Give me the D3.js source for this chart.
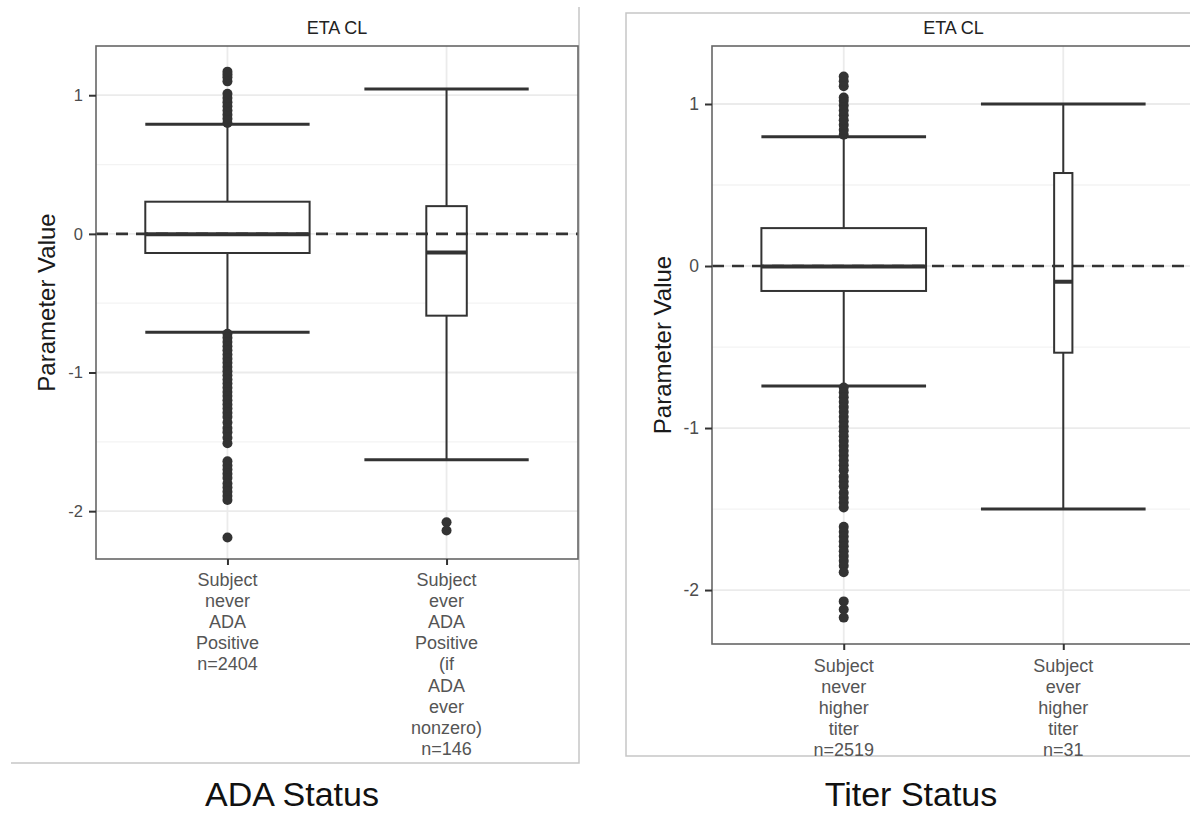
<!DOCTYPE html>
<html>
<head>
<meta charset="utf-8">
<script src="https://cdn.jsdelivr.net/npm/d3@7"></script>
<style>
  body { margin: 0; background: #fff; }
  svg { display: block; font-family: "Liberation Sans", Arial, sans-serif; }
</style>
</head>
<body>
<svg id="chart" width="1190" height="815"></svg>
<script>
// ---- data ----
var yTicks = [-2, -1, 0, 1];
var yMinorTicks = [-1.5, -0.5, 0.5];

var adaLabels = ["Subject never ADA Positive", "Subject ever ADA Positive (if ADA ever nonzero)"];
var adaN = [2404, 146];
var adaLow = [-0.71, -1.63];
var adaQ1 = [-0.138, -0.59];
var adaMedian = [-0.003, -0.135];
var adaQ3 = [0.232, 0.20];
var adaHigh = [0.79, 1.045];
var adaOutliersNever = [0.80, 0.83, 0.86, 0.89, 0.92, 0.95, 0.98, 1.01, 1.10, 1.13, 1.15, 1.17,
  -0.72, -0.75, -0.78, -0.81, -0.84, -0.87, -0.90, -0.93, -0.96, -0.99, -1.02, -1.05, -1.08,
  -1.11, -1.14, -1.17, -1.20, -1.23, -1.26, -1.29, -1.32, -1.36, -1.40, -1.43, -1.47, -1.51,
  -1.64, -1.67, -1.70, -1.73, -1.76, -1.80, -1.83, -1.86, -1.89, -1.92, -2.19];
var adaOutliersEver = [-2.08, -2.14];

var titerLabels = ["Subject never higher titer", "Subject ever higher titer"];
var titerN = [2519, 31];
var titerLow = [-0.741, -1.50];
var titerQ1 = [-0.154, -0.535];
var titerMedian = [-0.003, -0.097];
var titerQ3 = [0.234, 0.574];
var titerHigh = [0.798, 1.0];
var titerOutliersNever = [0.81, 0.84, 0.87, 0.90, 0.93, 0.96, 0.99, 1.02, 1.04, 1.11, 1.14, 1.17,
  -0.75, -0.78, -0.81, -0.84, -0.87, -0.90, -0.93, -0.96, -0.99, -1.02, -1.05, -1.08, -1.11,
  -1.14, -1.17, -1.20, -1.23, -1.26, -1.30, -1.33, -1.36, -1.40, -1.43, -1.46, -1.49,
  -1.61, -1.64, -1.67, -1.70, -1.73, -1.76, -1.79, -1.82, -1.85, -1.89,
  -2.07, -2.12, -2.17];
var titerOutliersEver = [];

var svg = d3.select("#chart");

// outer frames of the two pasted plots
svg.append("path")
  .attr("d", "M579,7V763H11")
  .attr("fill", "none")
  .attr("stroke", "#c6c6c6")
  .attr("stroke-width", 1.5);
svg.append("path")
  .attr("d", "M1190,13H626V756H1190")
  .attr("fill", "none")
  .attr("stroke", "#c6c6c6")
  .attr("stroke-width", 1.5);

function drawPanel(p) {
  var g = svg.append("g");

  var rows = p.labels.map(function(d, i) {
    return {label: d, n: p.n[i], lo: p.lo[i], q1: p.q1[i], med: p.med[i], q3: p.q3[i], hi: p.hi[i], out: p.outliers[i]};
  });

  var x = d3.scalePoint()
    .domain(p.labels)
    .range([p.left, p.right])
    .padding(0.6);
  var y = d3.scaleLinear()
    .domain(p.domain)
    .range([p.bottom, p.top]);

  var nmax = d3.max(p.n);
  var capW = 0.75 * x.step();
  function boxW(d) { return 0.75 * x.step() * Math.sqrt(d.n / nmax); }

  var plotRight = Math.min(p.right, 1190);

  // grid
  g.selectAll(".minor").data(yMinorTicks).enter().append("line")
    .attr("x1", p.left).attr("x2", plotRight)
    .attr("y1", function(d) { return y(d); })
    .attr("y2", function(d) { return y(d); })
    .attr("stroke", "#f3f3f3").attr("stroke-width", 1.3);
  g.selectAll(".major").data(yTicks).enter().append("line")
    .attr("x1", p.left).attr("x2", plotRight)
    .attr("y1", function(d) { return y(d); })
    .attr("y2", function(d) { return y(d); })
    .attr("stroke", "#ebebeb").attr("stroke-width", 1.8);
  g.selectAll(".vgrid").data(p.labels).enter().append("line")
    .attr("x1", function(d) { return x(d); })
    .attr("x2", function(d) { return x(d); })
    .attr("y1", p.top).attr("y2", p.bottom)
    .attr("stroke", "#ebebeb").attr("stroke-width", 1.8);

  // whiskers + caps
  rows.forEach(function(d) {
    var cx = x(d.label);
    g.append("line").attr("x1", cx).attr("x2", cx).attr("y1", y(d.hi)).attr("y2", y(d.lo))
      .attr("stroke", "#333").attr("stroke-width", 2);
    [d.hi, d.lo].forEach(function(v) {
      g.append("line").attr("x1", cx - capW / 2).attr("x2", cx + capW / 2)
        .attr("y1", y(v)).attr("y2", y(v))
        .attr("stroke", "#333").attr("stroke-width", 3);
    });
  });

  // boxes
  g.selectAll(".box").data(rows).enter().append("rect")
    .attr("x", function(d) { return x(d.label) - boxW(d) / 2; })
    .attr("y", function(d) { return y(d.q3); })
    .attr("width", function(d) { return boxW(d); })
    .attr("height", function(d) { return y(d.q1) - y(d.q3); })
    .attr("fill", "#fff")
    .attr("stroke", "#333")
    .attr("stroke-width", 2);
  g.selectAll(".median").data(rows).enter().append("line")
    .attr("x1", function(d) { return x(d.label) - boxW(d) / 2; })
    .attr("x2", function(d) { return x(d.label) + boxW(d) / 2; })
    .attr("y1", function(d) { return y(d.med); })
    .attr("y2", function(d) { return y(d.med); })
    .attr("stroke", "#333")
    .attr("stroke-width", 4);

  // outliers
  rows.forEach(function(d) {
    g.selectAll(null).data(d.out).enter().append("circle")
      .attr("cx", x(d.label))
      .attr("cy", function(v) { return y(v); })
      .attr("r", 5)
      .attr("fill", "#333");
  });

  // reference line at zero
  g.append("line")
    .attr("x1", p.left).attr("x2", plotRight)
    .attr("y1", y(0)).attr("y2", y(0))
    .attr("stroke", "#333")
    .attr("stroke-width", 2.6)
    .attr("stroke-dasharray", "12,8");

  // panel border
  g.append("rect")
    .attr("x", p.left).attr("y", p.top)
    .attr("width", p.right - p.left).attr("height", p.bottom - p.top)
    .attr("fill", "none")
    .attr("stroke", "#666")
    .attr("stroke-width", 1.6);

  // y axis
  var yAxis = g.append("g")
    .attr("transform", "translate(" + p.left + ",0)")
    .call(d3.axisLeft(y).tickValues(yTicks).tickSize(7).tickPadding(6)
      .tickFormat(function(d) { return String(d); }));
  yAxis.select(".domain").remove();
  yAxis.selectAll("line").attr("stroke", "#333").attr("stroke-width", 2);
  yAxis.selectAll("text")
    .style("font-family", "Liberation Sans, Arial, sans-serif")
    .style("font-size", p.tickFont + "px")
    .attr("fill", "#4d4d4d");

  // x axis
  var xAxis = g.append("g")
    .attr("transform", "translate(0," + p.bottom + ")")
    .call(d3.axisBottom(x).tickSize(6).tickFormat(""));
  xAxis.select(".domain").remove();
  xAxis.selectAll("line").attr("stroke", "#333").attr("stroke-width", 2);

  var labelG = g.append("g");
  if (p.clipBottom) {
    var cid = "clip" + p.id;
    svg.append("clipPath").attr("id", cid)
      .append("rect").attr("x", 0).attr("y", 0).attr("width", 1190).attr("height", p.clipBottom);
    labelG.attr("clip-path", "url(#" + cid + ")");
  }
  rows.forEach(function(d) {
    var lines = (d.label + " n=" + d.n).split(" ");
    var t = labelG.append("text")
      .attr("text-anchor", "middle")
      .attr("fill", "#555")
      .style("font-size", "18px");
    lines.forEach(function(s, i) {
      t.append("tspan")
        .attr("x", x(d.label))
        .attr("y", p.bottom + p.labelOffset + i * 21.2)
        .text(s);
    });
  });

  // strip title
  g.append("text")
    .attr("x", (p.left + p.right) / 2)
    .attr("y", 34)
    .attr("text-anchor", "middle")
    .attr("fill", "#222")
    .style("font-size", "18px")
    .text("ETA CL");

  // y title
  g.append("text")
    .attr("transform", "translate(" + p.yTitleX + "," + (p.top + p.bottom) / 2 + ") rotate(-90)")
    .attr("text-anchor", "middle")
    .attr("fill", "#1a1a1a")
    .style("font-size", "24px")
    .text("Parameter Value");

  // caption under the plot
  svg.append("text")
    .attr("x", p.captionX)
    .attr("y", 806)
    .attr("text-anchor", "middle")
    .attr("fill", "#111")
    .style("font-size", "34px")
    .text(p.caption);
}

drawPanel({
  id: "ada",
  left: 96, right: 578, top: 46, bottom: 559,
  domain: [-2.345, 1.355],
  labels: adaLabels, n: adaN,
  lo: adaLow, q1: adaQ1, med: adaMedian, q3: adaQ3, hi: adaHigh,
  outliers: [adaOutliersNever, adaOutliersEver],
  tickFont: 16.5,
  labelOffset: 26.5,
  yTitleX: 55,
  captionX: 292,
  caption: "ADA Status"
});

drawPanel({
  id: "titer",
  left: 712, right: 1195, top: 46, bottom: 644,
  domain: [-2.333, 1.358],
  labels: titerLabels, n: titerN,
  lo: titerLow, q1: titerQ1, med: titerMedian, q3: titerQ3, hi: titerHigh,
  outliers: [titerOutliersNever, titerOutliersEver],
  tickFont: 17.5,
  labelOffset: 27.5,
  clipBottom: 756,
  yTitleX: 671,
  captionX: 911,
  caption: "Titer Status"
});
</script>
</body>
</html>
